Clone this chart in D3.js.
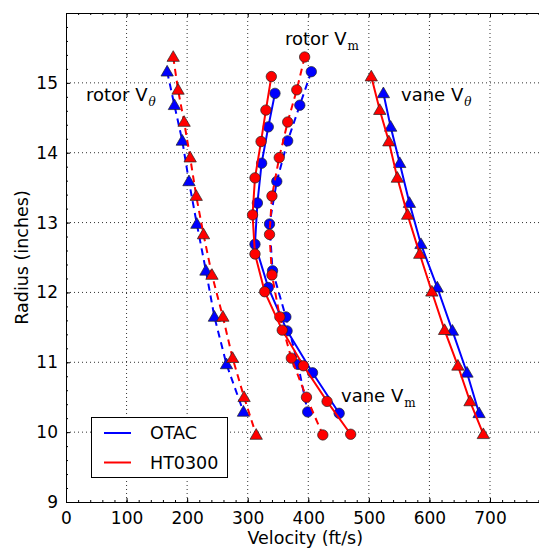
<!DOCTYPE html>
<html>
<head>
<meta charset="utf-8">
<script src="https://d3js.org/d3.v7.min.js"></script>
<style>
  body { margin: 0; background: #fff; }
  svg { display: block; font-family: "DejaVu Sans", sans-serif; }
  .grid line { stroke: #000; stroke-dasharray: 1,3; stroke-width: 1; opacity: 0.8; }
  .axis path { stroke: #000; stroke-width: 1; }
  .axis line { stroke: #000; }
  .axis text { font-family: "DejaVu Sans", sans-serif; font-size: 17px; fill: #000; }
</style>
</head>
<body>
<div id="chart"><svg></svg></div>
<script>
// radii (inches) at which each configuration was sampled
var otacRotorR = [15.16, 14.68, 14.17, 13.59, 12.98, 12.31, 11.65, 10.97, 10.29];
var htRotorR   = [15.37, 14.90, 14.44, 13.93, 13.38, 12.83, 12.25, 11.65, 11.06, 10.50, 9.96];
var otacVaneR  = [14.85, 14.37, 13.85, 13.28, 12.69, 12.07, 11.45, 10.85, 10.27];
var htVaneR    = [15.09, 14.61, 14.16, 13.64, 13.11, 12.55, 12.01, 11.46, 10.95, 10.44, 9.97];

// velocities (ft/s)
var otacRotorVt = [167, 179, 192, 203, 216, 231, 245, 265, 293];
var htRotorVt   = [177, 185, 195, 205, 215, 227, 241, 259, 275, 294, 314];
var otacRotorVm = [405, 386, 366, 348, 336, 341, 363, 383, 399];
var htRotorVm   = [394, 381, 366, 352, 340, 336, 340, 353, 372, 397, 424];
var otacVaneVt  = [524, 536, 551, 567, 586, 613, 638, 662, 682];
var htVaneVt    = [504, 518, 533, 547, 564, 584, 604, 625, 647, 667, 689];
var otacVaneVm  = [345, 334, 323, 316, 312, 334, 365, 407, 451];
var htVaneVm    = [339, 330, 322, 312, 308, 312, 328, 357, 392, 431, 470];

var xTicks = [0, 100, 200, 300, 400, 500, 600, 700];
var yTicks = [9, 10, 11, 12, 13, 14, 15];
var legendNames = ["OTAC", "HT0300"];

var chart = function(d3) {

    var width = 539;
    var height = 549;
    var blue = "#0000ff";
    var red = "#ff0000";

    var x = d3.scaleLinear().domain([0, 790]).range([66, 66 + 790 * 0.6057]);
    var y = d3.scaleLinear().domain([9, 16]).range([502, 13]);

    function pairs(rs, vs) {
        return rs.map(function(r, i) { return { r: r, v: vs[i] }; });
    }

    function draw() {
        var svg = d3.select("#chart svg").attr("width", width).attr("height", height);
        var x0 = x.range()[0], x1 = x.range()[1];
        var y0 = y.range()[0], y1 = y.range()[1];

        // dotted grid
        var grid = svg.append("g").attr("class", "grid");
        grid.selectAll(".gx").data(xTicks.slice(1)).enter().append("line")
            .attr("x1", function(d) { return x(d); }).attr("x2", function(d) { return x(d); })
            .attr("y1", y0).attr("y2", y1);
        grid.selectAll(".gy").data(yTicks.slice(1)).enter().append("line")
            .attr("y1", function(d) { return y(d); }).attr("y2", function(d) { return y(d); })
            .attr("x1", x0).attr("x2", x1);

        var xMinor = d3.range(0, 791, 20);
        var yMinor = d3.range(9, 16.01, 0.2);

        // bottom axis
        svg.append("g").attr("class", "axis").attr("transform", "translate(0," + y0 + ")")
            .call(d3.axisBottom(x).tickValues(xMinor).tickSize(-2).tickFormat("").tickSizeOuter(0));
        svg.append("g").attr("class", "axis").attr("transform", "translate(0," + y0 + ")")
            .call(d3.axisBottom(x).tickValues(xTicks).tickSize(-4).tickPadding(10)
                .tickFormat(d3.format("d")).tickSizeOuter(0));
        // top axis
        svg.append("g").attr("class", "axis").attr("transform", "translate(0," + y1 + ")")
            .call(d3.axisTop(x).tickValues(xMinor).tickSize(-2).tickFormat("").tickSizeOuter(0));
        svg.append("g").attr("class", "axis").attr("transform", "translate(0," + y1 + ")")
            .call(d3.axisTop(x).tickValues(xTicks).tickSize(-4).tickFormat("").tickSizeOuter(0));
        // left axis
        svg.append("g").attr("class", "axis").attr("transform", "translate(" + x0 + ",0)")
            .call(d3.axisLeft(y).tickValues(yMinor).tickSize(-2).tickFormat("").tickSizeOuter(0));
        svg.append("g").attr("class", "axis").attr("transform", "translate(" + x0 + ",0)")
            .call(d3.axisLeft(y).tickValues(yTicks).tickSize(-4).tickPadding(8)
                .tickFormat(d3.format("d")).tickSizeOuter(0));

        svg.append("text")
            .attr("x", (x0 + x1) / 2).attr("y", 544)
            .attr("text-anchor", "middle").style("font-size", "17.5px")
            .text("Velocity (ft/s)");
        svg.append("text")
            .attr("transform", "translate(28," + ((y0 + y1) / 2) + ") rotate(-90)")
            .attr("text-anchor", "middle").style("font-size", "17.5px")
            .text("Radius (inches)");

        var series = [
            { rs: otacRotorR, vs: otacRotorVt, color: blue, dashed: true,  marker: "tri" },
            { rs: otacRotorR, vs: otacRotorVm, color: blue, dashed: true,  marker: "circ" },
            { rs: otacVaneR,  vs: otacVaneVt,  color: blue, dashed: false, marker: "tri" },
            { rs: otacVaneR,  vs: otacVaneVm,  color: blue, dashed: false, marker: "circ" },
            { rs: htRotorR,   vs: htRotorVt,   color: red,  dashed: true,  marker: "tri" },
            { rs: htRotorR,   vs: htRotorVm,   color: red,  dashed: true,  marker: "circ" },
            { rs: htVaneR,    vs: htVaneVt,    color: red,  dashed: false, marker: "tri" },
            { rs: htVaneR,    vs: htVaneVm,    color: red,  dashed: false, marker: "circ" }
        ];

        var line = d3.line()
            .x(function(d) { return x(d.v); })
            .y(function(d) { return y(d.r); });

        var tri = d3.symbol().type(d3.symbolTriangle).size(66);

        series.forEach(function(s) {
            var pts = pairs(s.rs, s.vs);
            var g = svg.append("g");
            g.append("path").datum(pts)
                .attr("d", line)
                .attr("fill", "none")
                .attr("stroke", s.color)
                .attr("stroke-width", 2)
                .attr("stroke-dasharray", s.dashed ? "7,5" : null);
            if (s.marker === "tri") {
                g.selectAll("path.m").data(pts).enter().append("path")
                    .attr("class", "m")
                    .attr("d", tri)
                    .attr("transform", function(d) { return "translate(" + x(d.v) + "," + (y(d.r) + 0.8) + ")"; })
                    .attr("fill", s.color).attr("stroke", "#222").attr("stroke-width", 0.7);
            } else {
                g.selectAll("circle").data(pts).enter().append("circle")
                    .attr("cx", function(d) { return x(d.v); })
                    .attr("cy", function(d) { return y(d.r); })
                    .attr("r", 5.2)
                    .attr("fill", s.color).attr("stroke", "#222").attr("stroke-width", 0.7);
            }
        });

        // annotations
        function label(tx, ty, main, sub, subItalic) {
            var t = svg.append("text").attr("x", tx).attr("y", ty).style("font-size", "18px");
            t.append("tspan").text(main);
            t.append("tspan")
                .attr("dy", 5).attr("dx", 1)
                .style("font-size", "12px")
                .style("font-family", "'DejaVu Serif', serif")
                .style("font-style", subItalic ? "italic" : "normal")
                .text(sub);
        }
        label(86, 101, "rotor V", "\u03b8", true);
        label(285, 45, "rotor V", "m", false);
        label(401, 101, "vane V", "\u03b8", true);
        label(341, 402, "vane V", "m", false);

        // legend
        var lg = svg.append("g");
        lg.append("rect")
            .attr("x", 91.5).attr("y", 417.5).attr("width", 136).attr("height", 60)
            .attr("fill", "#fff").attr("stroke", "#000").attr("stroke-width", 1);
        lg.selectAll(".ll").data(legendNames).enter().append("line")
            .attr("x1", 104).attr("x2", 131)
            .attr("y1", function(d, i) { return 433 + i * 29.5; })
            .attr("y2", function(d, i) { return 433 + i * 29.5; })
            .attr("stroke", function(d, i) { return i === 0 ? blue : red; })
            .attr("stroke-width", 2);
        lg.selectAll(".lt").data(legendNames).enter().append("text")
            .attr("x", 150)
            .attr("y", function(d, i) { return 439 + i * 29.5; })
            .style("font-size", "17.5px")
            .text(function(d) { return d; });
    }

    return {
        show: function() {
            draw();
        }
    };
}(d3);

chart.show();
</script>
</body>
</html>
